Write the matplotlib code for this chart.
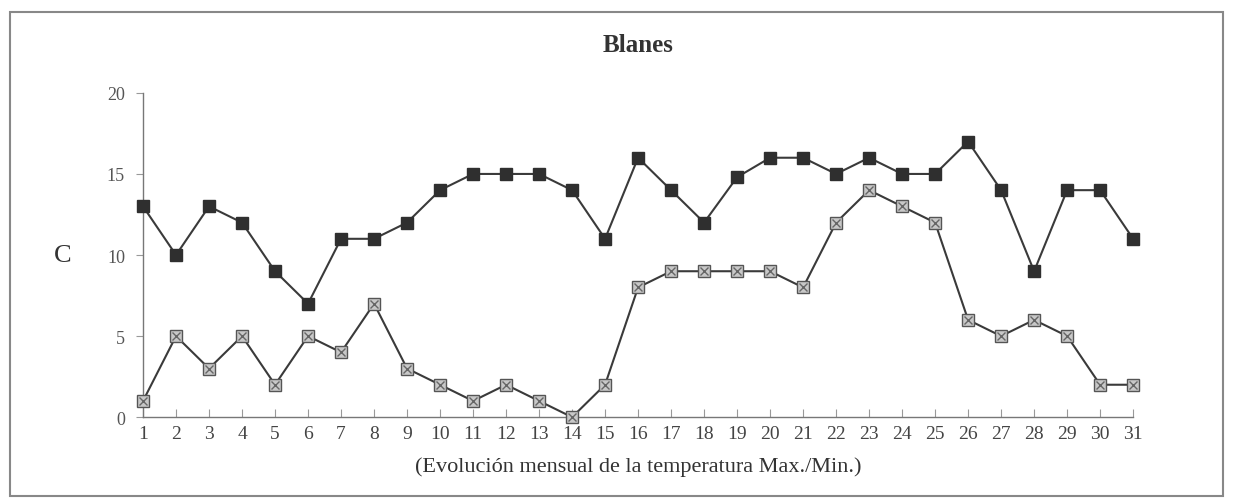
import matplotlib.pyplot as plt
from matplotlib.patches import Rectangle

days = list(range(1, 32))
t_max = [13, 10, 13, 12, 9, 7, 11, 11, 12, 14, 15, 15, 15, 14, 11, 16,
         14, 12, 14.8, 16, 16, 15, 16, 15, 15, 17, 14, 9, 14, 14, 11]
t_min = [1, 5, 3, 5, 2, 5, 4, 7, 3, 2, 1, 2, 1, 0, 2, 8,
         9, 9, 9, 9, 8, 12, 14, 13, 12, 6, 5, 6, 5, 2, 2]
y_ticks = [0, 5, 10, 15, 20]

plt.rcParams['font.family'] = ['Liberation Serif', 'DejaVu Serif']

fig = plt.figure(figsize=(12.33, 5.02), dpi=100)
ax = fig.add_axes([0.116, 0.167, 0.803, 0.646])

# outer frame
fig.patches.append(Rectangle((0.008, 0.01), 0.984, 0.965, transform=fig.transFigure,
                             fill=False, edgecolor='#888888', linewidth=1.5))

ax.plot(days, t_max, color='#3a3a3a', linewidth=1.5, marker='s', markersize=9,
        markerfacecolor='#2f2f2f', markeredgecolor='#2f2f2f', clip_on=False, zorder=3)
ax.plot(days, t_min, color='#3a3a3a', linewidth=1.5, marker='s', markersize=9,
        markerfacecolor='#c8c8c8', markeredgecolor='#555555', clip_on=False, zorder=3)
ax.plot(days, t_min, linestyle='none', marker='x', markersize=6,
        markeredgecolor='#666666', markeredgewidth=1, clip_on=False, zorder=4)

ax.set_xlim(1, 31)
ax.set_ylim(0, 20)
ax.set_xticks(days)
ax.set_yticks(y_ticks)
for s in ['top', 'right']:
    ax.spines[s].set_visible(False)
for s in ['left', 'bottom']:
    ax.spines[s].set_color('#777777')
    ax.spines[s].set_linewidth(1)
ax.tick_params(axis='x', direction='in', length=6, color='#999999',
               labelsize=14, labelcolor='#444444', pad=6)
ax.tick_params(axis='y', direction='out', length=5, color='#999999',
               labelsize=13, labelcolor='#555555', pad=8)

ax.set_title('Blanes', fontsize=18, fontweight='bold', color='#333333', pad=30)
ax.set_ylabel('C', fontsize=19, rotation=0, color='#333333', labelpad=32, va='center')
ax.set_xlabel('(Evolución mensual de la temperatura Max./Min.)', fontsize=16,
              color='#333333', labelpad=10)

fig.savefig('out.png', dpi=100)
